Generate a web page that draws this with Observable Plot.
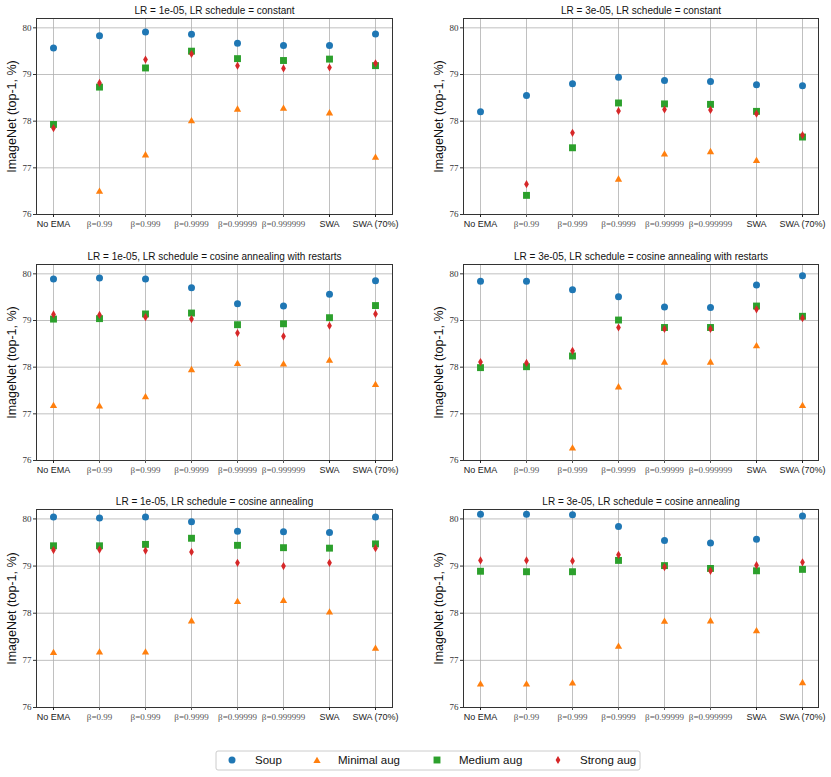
<!DOCTYPE html>
<html><head><meta charset="utf-8">
<script src="https://cdn.jsdelivr.net/npm/d3@7"></script>
<script src="https://cdn.jsdelivr.net/npm/@observablehq/plot@0.6"></script>
<style>
body{margin:0;background:#fff;}
#wrap{position:relative;width:831px;height:777px;overflow:hidden;}
.panel{position:absolute;}
.panel svg{overflow:visible;}
</style></head><body><div id="wrap"></div>
<script>
const categories = ["No EMA","β=0.99","β=0.999","β=0.9999","β=0.99999","β=0.999999","SWA","SWA (70%)"];
const sansTicks = ["No EMA","SWA","SWA (70%)"];
const betaTicks = ["β=0.99","β=0.999","β=0.9999","β=0.99999","β=0.999999"];
const yTicks = [76, 77, 78, 79, 80];
const titles = [
  "LR = 1e-05, LR schedule = constant",
  "LR = 3e-05, LR schedule = constant",
  "LR = 1e-05, LR schedule = cosine annealing with restarts",
  "LR = 3e-05, LR schedule = cosine annealing with restarts",
  "LR = 1e-05, LR schedule = cosine annealing",
  "LR = 3e-05, LR schedule = cosine annealing"
];
const seriesNames = ["Soup","Minimal aug","Medium aug","Strong aug"];

// values per panel (6 rows) x category (8 columns); null = not shown
const soup = [
  [79.57, 79.83, 79.91, 79.86, 79.67, 79.62, 79.62, 79.87],
  [78.20, 78.55, 78.80, 78.94, 78.87, 78.85, 78.78, 78.76],
  [79.89, 79.91, 79.89, 79.70, 79.36, 79.31, 79.56, 79.85],
  [79.84, 79.84, 79.66, 79.51, 79.29, 79.28, 79.76, 79.96],
  [80.04, 80.02, 80.04, 79.94, 79.74, 79.73, 79.71, 80.04],
  [80.10, 80.10, 80.09, 79.84, 79.54, 79.49, 79.57, 80.06]
];
const minimal = [
  [null, 76.51, 77.29, 78.02, 78.27, 78.29, 78.19, 77.24],
  [null, null, null, 76.77, 77.31, 77.36, 77.17, null],
  [77.19, 77.18, 77.38, 77.96, 78.09, 78.08, 78.16, 77.64],
  [null, null, 76.28, 77.59, 78.12, 78.12, 78.47, 77.19],
  [77.18, 77.19, 77.19, 77.85, 78.26, 78.28, 78.04, 77.27],
  [76.51, 76.51, 76.53, 77.31, 77.84, 77.85, 77.64, 76.54]
];
const medium = [
  [77.93, 78.73, 79.14, 79.50, 79.34, 79.30, 79.33, 79.19],
  [null, 76.41, 77.43, 78.39, 78.37, 78.36, 78.21, 77.66],
  [79.03, 79.04, 79.14, 79.16, 78.91, 78.93, 79.06, 79.32],
  [77.99, 78.01, 78.24, 79.01, 78.85, 78.85, 79.31, 79.09],
  [79.43, 79.43, 79.46, 79.59, 79.44, 79.39, 79.38, 79.47],
  [78.89, 78.88, 78.88, 79.12, 79.01, 78.95, 78.90, 78.93]
];
const strong = [
  [77.85, 78.82, 79.32, 79.44, 79.19, 79.13, 79.15, 79.24],
  [null, 76.65, 77.75, 78.22, 78.25, 78.24, 78.16, 77.70],
  [79.13, 79.12, 79.07, 79.03, 78.73, 78.66, 78.89, 79.14],
  [78.11, 78.09, 78.35, 78.85, 78.82, 78.82, 79.24, 79.05],
  [79.34, 79.35, 79.33, 79.30, 79.07, 79.00, 79.07, 79.38],
  [79.12, 79.12, 79.11, 79.24, 78.98, 78.90, 79.02, 79.08]
];

const seriesData = [soup, minimal, medium, strong];
const styles = [
  {fill: "#1f77b4", symbol: "circle", r: 3.5, dy: 0},
  {fill: "#ff7f0e", symbol: "triangle", r: 2.7, dy: 1},
  {fill: "#2ca02c", symbol: "square", r: 3.9, dy: 0},
  {fill: "#d62728", symbol: "diamond", r: 2.5, dy: 0}
];
const cols = [{left: 0, w: 415, ml: 36, mr: 23}, {left: 415, w: 416, ml: 48, mr: 13}];
const rows = [{top: 0, h: 240, mt: 18, mb: 26}, {top: 245, h: 240, mt: 19, mb: 25}, {top: 490, h: 240, mt: 19, mb: 23}];

const wrap = document.getElementById("wrap");

titles.forEach((title, i) => {
  const c = cols[i % 2], r = rows[Math.floor(i / 2)];
  const table = [];
  seriesNames.forEach((s, k) => seriesData[k][i].forEach((v, j) => {
    if (v != null) table.push({cat: categories[j], v, s});
  }));
  const plot = Plot.plot({
    width: c.w, height: r.h,
    marginLeft: c.ml, marginRight: c.mr, marginTop: r.mt, marginBottom: r.mb,
    style: {background: "transparent", color: "#333"},
    x: {type: "point", domain: categories, padding: 0.35},
    y: {domain: [76, 80.2]},
    marks: [
      Plot.gridX({stroke: "#b0b0b0", strokeOpacity: 1, strokeWidth: 0.8}),
      Plot.gridY({ticks: yTicks, stroke: "#b0b0b0", strokeOpacity: 1, strokeWidth: 0.8}),
      ...seriesNames.map((s, k) => Plot.dot(table.filter(d => d.s === s), {
        x: "cat", y: "v", symbol: styles[k].symbol, fill: styles[k].fill, r: styles[k].r, dy: styles[k].dy, stroke: "none"
      })),
      Plot.frame({stroke: "#333", strokeWidth: 1}),
      Plot.axisY({ticks: yTicks, tickFormat: d => String(d), tickSize: 3, tickPadding: 2, label: null, fontFamily: "Liberation Serif", fontSize: 9, color: "#333"}),
      Plot.axisX({ticks: sansTicks, tickSize: 3, tickPadding: 3, label: null, fontFamily: "Liberation Sans", fontSize: 9, color: "#222"}),
      Plot.axisX({ticks: betaTicks, tickSize: 3, tickPadding: 3, label: null, fontFamily: "Liberation Serif", fontSize: 9, color: "#555"}),
      Plot.text([title], {text: d => d, frameAnchor: "top", lineAnchor: "middle", textAnchor: "middle", dy: -7.5, fontFamily: "Liberation Sans", fontSize: 10, fill: "#111"}),
      Plot.text(["ImageNet (top-1, %)"], {text: d => d, frameAnchor: "left", textAnchor: "middle", lineAnchor: "middle", rotate: -90, dx: -24.5, fontFamily: "Liberation Sans", fontSize: 12.5, fill: "#111"})
    ]
  });
  const div = document.createElement("div");
  div.className = "panel";
  div.style.left = c.left + "px";
  div.style.top = r.top + "px";
  div.appendChild(plot);
  wrap.appendChild(div);
});

// legend
const legend = d3.create("svg").attr("width", 831).attr("height", 37)
  .style("position", "absolute").style("left", "0px").style("top", "740px");
legend.append("rect").attr("x", 216).attr("y", 11).attr("width", 424).attr("height", 19)
  .attr("rx", 2).attr("fill", "#fff").attr("stroke", "#ccc").attr("stroke-width", 1);
const symbolMap = {circle: d3.symbolCircle, triangle: d3.symbolTriangle, square: d3.symbolSquare, diamond: d3.symbolDiamond};
const legendX = [[232, 255], [317, 338], [437, 459], [558, 580]];
seriesNames.forEach((s, k) => {
  const st = styles[k];
  legend.append("path")
    .attr("d", d3.symbol(symbolMap[st.symbol], Math.PI * st.r * st.r)())
    .attr("transform", `translate(${legendX[k][0]},${20 + st.dy})`)
    .attr("fill", st.fill);
  legend.append("text").attr("x", legendX[k][1]).attr("y", 20).attr("dy", "0.35em")
    .attr("font-family", "Liberation Sans").attr("font-size", 11.5).attr("fill", "#111").text(s);
});
wrap.appendChild(legend.node());
</script></body></html>
